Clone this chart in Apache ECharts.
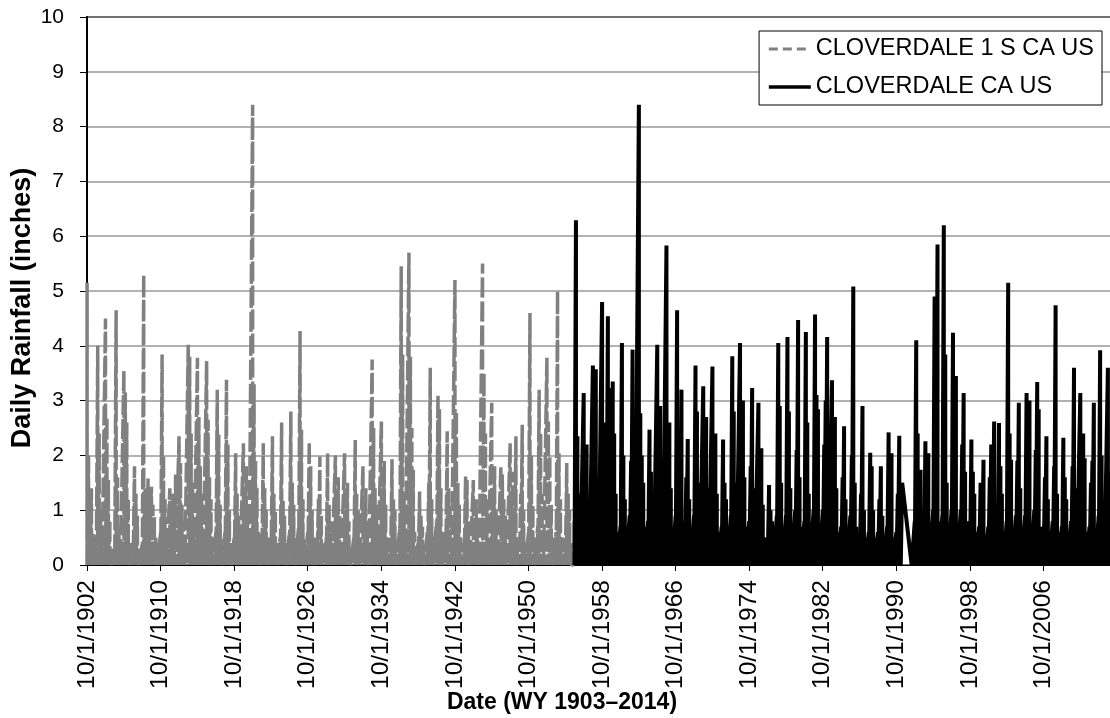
<!DOCTYPE html>
<html><head><meta charset="utf-8">
<script src="https://cdn.jsdelivr.net/npm/echarts@6/dist/echarts.min.js"></script>
<style>html,body{margin:0;padding:0;background:#fff}#c{width:1110px;height:718px}</style>
</head><body><div id="c"></div>
<script>
// ---------------- DATA ----------------
const grayName = 'CLOVERDALE 1 S CA US';
const blackName = 'CLOVERDALE CA US';
const xTitle = 'Date (WY 1903\u20132014)';
const yTitle = 'Daily Rainfall (inches)';
const xTickLabels = ['10/1/1902','10/1/1910','10/1/1918','10/1/1926','10/1/1934','10/1/1942','10/1/1950',
  '10/1/1958','10/1/1966','10/1/1974','10/1/1982','10/1/1990','10/1/1998','10/1/2006'];
const yTicks = [0,1,2,3,4,5,6,7,8,9,10];

// Daily rainfall (inches) of the rainy days of each water year, in time order.
// CLOVERDALE 1 S CA US, water years 1903-1955
const grayFirstWY = 1903;
const grayRows = [
  [5.15,2.0,1.2,1.4,0.6],[0.5,4.0,2.4,1.0,0.4],[4.5,2.7,1.55,0.8,0.3],[0.3,4.65,1.6,0.6,0.2],
  [3.55,3.15,2.6,1.2,0.4],[0.4,1.8,1.3,0.9,0.3],[0.4,5.3,1.4,0.8,1.58],[1.43,1.1,0.9,0.5,0.4],
  [0.6,3.84,2.0,1.2,0.5],[1.4,1.0,1.3,0.8,1.65],[2.35,1.86,1.1,0.8,0.5],[4.02,3.8,2.4,1.5,0.6],
  [3.78,2.7,1.8,1.3,0.6],[3.72,2.65,1.6,1.2,0.5],[0.6,3.2,2.38,1.1,0.5],[0.6,3.38,2.2,1.0,0.4],
  [0.5,2.04,1.3,0.9,0.4],[2.22,1.4,1.8,1.0,0.4],[8.4,3.3,1.9,1.4,0.6],[0.6,2.22,1.4,1.0,0.5],
  [0.5,2.35,1.3,1.0,0.4],[0.5,2.6,1.2,0.9,0.4],[0.6,2.8,1.5,1.1,0.5],[0.7,4.27,2.47,1.2,0.5],
  [0.6,2.25,1.8,1.0,0.5],[0.5,1.2,1.98,0.9,0.4],[0.5,2.04,1.1,0.8,0.4],[2.0,1.2,1.6,0.9,0.4],
  [2.04,1.0,1.5,0.8,0.3],[0.5,2.28,1.3,1.0,0.4],[1.8,1.0,1.4,0.8,0.3],[3.75,2.5,1.4,1.1,0.5],
  [2.62,1.4,1.9,1.1,0.5],[0.5,1.93,1.2,1.0,0.4],[0.7,5.45,3.84,1.3,0.5],[5.7,3.8,2.5,1.74,0.6],
  [0.4,1.34,0.9,0.7,0.3],[0.6,1.5,3.6,1.2,0.5],[0.8,3.1,2.84,1.4,0.6],[0.6,2.44,1.4,1.1,0.5],
  [5.2,2.8,1.5,1.1,0.5],[0.4,1.62,1.55,0.8,0.3],[1.55,1.1,1.2,0.8,0.4],[5.5,3.5,2.4,1.2,0.5],
  [2.96,1.3,1.8,1.0,0.4],[1.8,1.65,1.2,0.9,0.4],[2.22,1.2,1.7,0.9,2.35],[0.5,1.3,2.56,1.0,0.4],
  [0.6,4.6,2.0,1.1,0.5],[0.7,3.2,2.4,1.3,0.6],[3.78,2.62,2.0,1.1,0.5],[0.6,5.0,2.04,1.2,0.5],
  [0.5,1.86,1.3,1.0,0.4]
];
// CLOVERDALE CA US, water years 1956-2014 (null = record missing)
const blackFirstWY = 1956;
const blackRows = [
  [0.8,6.29,2.35,1.3,0.6],[3.14,1.55,2.2,1.2,0.5],[3.64,2.0,3.57,1.5,0.7],[4.8,1.8,2.6,1.4,4.54],
  [3.23,3.35,2.4,1.3,0.6],[0.7,4.05,2.0,1.2,0.5],[0.9,1.9,3.93,1.5,0.7],[8.4,2.77,2.0,1.5,0.7],
  [0.8,2.47,1.7,1.3,0.6],[4.02,2.1,2.9,1.6,0.7],[5.83,1.9,2.6,1.4,0.6],[0.9,4.65,2.0,1.5,3.2],
  [0.8,1.6,2.3,1.2,0.6],[0.9,3.64,2.8,1.5,0.7],[3.26,1.9,2.7,1.4,0.6],[3.62,1.7,2.4,1.3,0.6],
  [0.7,2.29,1.5,1.2,0.5],[0.9,3.81,2.8,1.5,0.7],[4.05,2.1,3.0,1.6,0.7],[0.8,1.8,3.23,1.4,0.6],
  [2.96,1.5,2.13,1.1,0.5],[0.5,1.46,1.0,0.8,0.4],[0.9,4.05,2.9,1.5,0.7],[0.9,4.16,2.8,1.4,0.6],
  [1.0,2.1,4.47,1.6,0.7],[0.8,4.25,2.6,1.3,0.6],[1.0,4.57,3.1,2.84,0.7],[1.0,2.2,3.0,4.16,0.8],
  [3.37,1.9,2.7,1.4,0.6],[0.7,1.6,2.53,1.2,0.5],[0.9,2.0,5.08,1.5,0.7],[0.6,1.3,2.9,1.0,0.5],
  [0.6,2.05,1.8,1.0,0.5],[0.6,1.2,1.8,0.9,0.4],[0.7,2.42,1.4,2.04,0.5],[0.6,1.3,2.36,1.0,1.5],
  null,
  [0.8,4.1,2.4,1.3,1.74],[0.7,2.26,1.5,2.04,0.5],[1.0,4.9,3.3,5.85,0.8],[0.9,6.2,3.84,1.5,0.7],
  [1.0,4.24,2.1,3.45,0.7],[1.0,2.2,3.14,1.7,0.8],[0.8,2.29,1.7,1.3,0.6],[0.7,1.5,1.4,1.92,0.5],
  [0.7,1.6,2.2,1.2,2.62],[0.8,2.59,1.8,1.3,0.6],[0.8,5.15,2.4,1.92,0.6],[0.9,1.9,2.96,1.4,0.6],
  [0.9,3.14,2.0,3.0,0.7],[1.0,2.1,3.34,2.84,0.7],[0.7,1.6,2.35,1.2,0.5],[0.8,1.8,4.74,1.3,0.6],
  [0.7,2.32,1.6,1.2,0.5],[0.8,1.8,3.6,1.4,0.6],[3.14,1.7,2.4,1.95,0.6],[0.7,1.5,1.9,2.96,0.5],
  [0.9,3.92,2.0,1.1,0.7],[3.6,1.2,1.7,1.0,0.6]
];
const blackResume = 1992.42;   // record restarts (decimal year)
const grayEnd = 1955.75, blackStart = 1955.75, recordEnd = 2014.75;
const axisStart = 1902.75;     // 10/1/1902

// ---------------- BUILD ----------------
// rainy days of a water year are laid out from early October to late May
const DAY = 1 / 365.25, S0 = 0.01, S1 = 0.64;
function build(rows, firstWY, x0, x1, resume) {
  const pts = [[x0 - axisStart, 0]];
  rows.forEach((vals, i) => {
    const n = firstWY - 1903 + i;
    if (!vals) { pts.pop(); pts.push([resume - axisStart, 0]); return; }
    const k = vals.length;
    vals.forEach((v, j) => {
      const x = n + S0 + (S1 - S0) * j / (k - 1);
      pts.push([x, v]);
      pts.push([x + DAY, 0]);
    });
  });
  pts.push([x1 - axisStart, 0]);
  return pts;
}
const grayData = build(grayRows, grayFirstWY, axisStart, grayEnd);
const blackData = build(blackRows, blackFirstWY, blackStart, recordEnd, blackResume);

const FONT = "'Liberation Sans', Arial, sans-serif";
const chart = echarts.init(document.getElementById('c'), null, {renderer: 'canvas'});
chart.setOption({
  animation: false,
  grid: {left: 87, top: 17, bottom: 153, right: -7, outerBoundsMode: 'none', containLabel: false,
    show: true, borderColor: '#000', borderWidth: 2, backgroundColor: 'transparent'},
  legend: {
    orient: 'vertical', right: 8, top: 31, backgroundColor: '#fff', borderColor: '#000', borderWidth: 1,
    padding: [6, 8, 6, 8], itemGap: 14, itemWidth: 42, itemHeight: 12, itemStyle: {opacity: 0},
    textStyle: {fontFamily: FONT, fontSize: 23.5, color: '#000'},
    data: [
      {name: grayName, itemStyle: {color: 'rgba(0,0,0,0)', borderWidth: 0}, lineStyle: {type: [9, 5], width: 3, color: '#808080'}},
      {name: blackName, itemStyle: {color: 'rgba(0,0,0,0)', borderWidth: 0}, lineStyle: {type: 'solid', width: 3.5, color: '#000'}}
    ]
  },
  xAxis: {
    type: 'value', min: 0, max: recordEnd - axisStart, interval: 8,
    axisLine: {show: true, lineStyle: {color: '#000', width: 1}},
    axisTick: {show: true, length: 6, lineStyle: {color: '#000'}},
    splitLine: {show: false},
    axisLabel: {rotate: 90, margin: 15, fontFamily: FONT, fontSize: 24.5, color: '#000', hideOverlap: false,
      formatter: v => (Math.abs(v / 8 - Math.round(v / 8)) < 1e-6 && xTickLabels[Math.round(v / 8)]) || ''}
  },
  yAxis: {
    type: 'value', min: 0, max: 10, interval: 1,
    axisLine: {show: true, lineStyle: {color: '#000', width: 2}},
    axisTick: {show: true, length: 7, lineStyle: {color: '#000'}},
    splitLine: {show: true, lineStyle: {color: '#999', width: 1.5}},
    axisLabel: {margin: 23, fontFamily: FONT, fontSize: 21, color: '#000',
      formatter: v => yTicks.indexOf(v) >= 0 ? String(v) : ''}
  },
  graphic: [
    {type: 'text', x: 562, y: 703, style: {text: xTitle, font: "bold 23px 'Liberation Sans', Arial, sans-serif", fill: '#000', textAlign: 'center', textVerticalAlign: 'middle'}},
    {type: 'text', x: 23, y: 308, rotation: Math.PI / 2, style: {text: yTitle, font: "bold 27px 'Liberation Sans', Arial, sans-serif", fill: '#000', textAlign: 'center', textVerticalAlign: 'middle'}}
  ],
  series: [
    {name: grayName, type: 'line', data: grayData, showSymbol: false, symbol: 'none',
     lineStyle: {color: '#808080', width: 3.5, type: [20, 4]}, itemStyle: {color: '#808080'}},
    {name: blackName, type: 'line', data: blackData, showSymbol: false, symbol: 'none',
     lineStyle: {color: '#000', width: 4, type: 'solid'}, itemStyle: {color: '#000'}}
  ]
});
</script></body></html>
